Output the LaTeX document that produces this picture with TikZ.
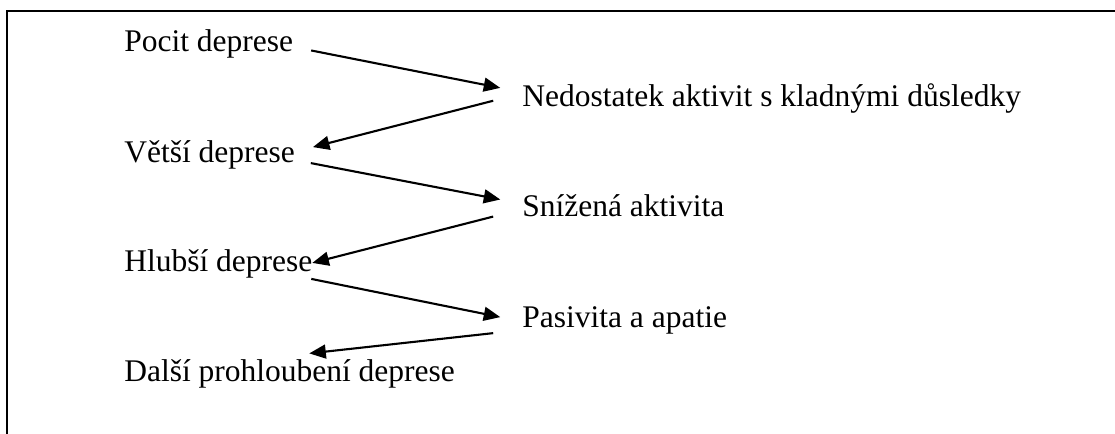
\documentclass[tikz,border=0pt]{standalone}
\usepackage{fontspec}
\setmainfont{Liberation Serif}
\usetikzlibrary{arrows.meta}

\begin{document}
\begin{tikzpicture}[>={Triangle[length=6.3pt,width=5.3pt]}, line width=0.8pt,
    stav/.style={anchor=base west, inner sep=0pt, font=\fontsize{12}{14}\selectfont}]

    \useasboundingbox (0,0) rectangle (14.93,5.81);

    % FRAME (cut off at the right and at the bottom)
    \draw (0.094,0) -- (0.094,5.664) -- (14.93,5.664);

    % LEFT COLUMN
    \node[stav] (pocit) at (1.65,5.12) {Pocit deprese};
    \node[stav] (vetsi) at (1.65,3.64) {Větší deprese};
    \node[stav] (hlubsi) at (1.65,2.17) {Hlubší deprese};
    \node[stav] (dalsi) at (1.65,0.70) {Další prohloubení deprese};

    % RIGHT COLUMN
    \node[stav] (nedostatek) at (6.98,4.38) {Nedostatek aktivit s kladnými důsledky};
    \node[stav] (snizena) at (6.98,2.91) {Snížená aktivita};
    \node[stav] (pasivita) at (6.98,1.43) {Pasivita a apatie};

    % SPIRAL ARROWS
    \draw[->] ([shift={(6.5pt,0.4pt)}]pocit.base east)
        -- ([shift={(-8pt,7.2pt)}]nedostatek.base west);
    \draw[->] ([shift={(-10.7pt,2.3pt)}]nedostatek.base west)
        -- ([shift={(6.5pt,5.7pt)}]vetsi.base east);

    \draw[->] ([shift={(5.7pt,-0.4pt)}]vetsi.base east)
        -- ([shift={(-8pt,6.5pt)}]snizena.base west);
    \draw[->] ([shift={(-10.7pt,0pt)}]snizena.base west)
        -- ([shift={(-0.4pt,3.4pt)}]hlubsi.base east);

    \draw[->] ([shift={(-0.8pt,-2.7pt)}]hlubsi.base east)
        -- ([shift={(-8pt,3.8pt)}]pasivita.base west);
    \draw[->] ([shift={(-10.7pt,-2.3pt)}]pasivita.base west)
        -- ([shift={(7.5pt,2pt)}]dalsi.north);

\end{tikzpicture}
\end{document}
